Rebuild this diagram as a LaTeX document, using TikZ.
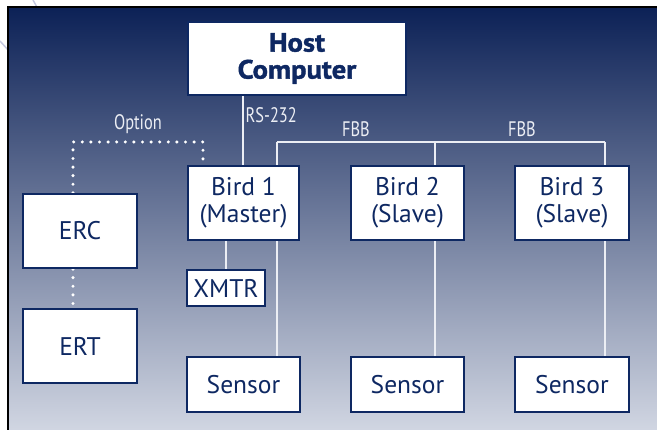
\documentclass[tikz,border=0pt]{standalone}
\usepackage{fontspec}
\setmainfont{PT Sans}
\newfontfamily\condfont[FakeStretch=0.78]{PT Sans}
\newfontfamily\hostfont[FakeBold=1.4, FakeStretch=1.08]{PT Sans Bold}
\pgfdeclarelayer{panel}
\pgfdeclarelayer{background}
\pgfsetlayers{panel,background,main}
\definecolor{navy}{RGB}{14,40,98}
\definecolor{topbg}{RGB}{12,33,86}
\definecolor{botbg}{RGB}{210,215,227}
\definecolor{wire}{RGB}{236,238,244}
\definecolor{arcc}{RGB}{196,200,224}
\tikzset{
  box/.style={draw=navy, fill=white, line width=2.2pt, text=navy, align=center,
    inner sep=0pt, font=\fontsize{25.5}{27}\selectfont},
  wireline/.style={draw=wire, line width=2pt},
  dotline/.style={draw=white, line width=3.4pt, line cap=round, dash pattern=on 0pt off 8.6pt},
  lbl/.style={text=wire, font=\condfont\fontsize{21}{24}\selectfont, inner sep=0pt}
}
\begin{document}
\begin{tikzpicture}[x=1pt,y=-1pt]
\useasboundingbox (0,0) rectangle (657,430);
\begin{pgfonlayer}{panel}
  \draw[arcc, line width=1.5pt] (33,0) -- (38,9);
  \draw[arcc, line width=1.5pt] (0,41) -- (9,51);
  \shade[top color=topbg, bottom color=botbg] (8,7) rectangle (660,433);
  \draw[black, line width=1.6pt] (8,433) -- (8,7) -- (660,7);
\end{pgfonlayer}

\node[box, minimum width=218pt, minimum height=73pt, font=\hostfont\fontsize{26.5}{27}\selectfont] (host) at (297,58.5) {Host\\Computer};
\node[box, minimum width=111pt, minimum height=74pt] (b1) at (243.5,203) {Bird 1\\(Master)};
\node[box, minimum width=113pt, minimum height=74pt] (b2) at (407.5,203) {Bird 2\\(Slave)};
\node[box, minimum width=114pt, minimum height=74pt] (b3) at (572,203) {Bird 3\\(Slave)};
\node[box, minimum width=114pt, minimum height=74pt] (erc) at (80,231) {ERC};
\node[box, minimum width=114pt, minimum height=74pt] (ert) at (80,346) {ERT};
\node[box, minimum width=78pt, minimum height=36pt] (xmtr) at (226,288) {XMTR};
\node[box, minimum width=113pt, minimum height=55pt] (s1) at (243.5,384.5) {Sensor};
\node[box, minimum width=113pt, minimum height=55pt] (s2) at (407.5,384.5) {Sensor};
\node[box, minimum width=114pt, minimum height=55pt] (s3) at (572,384.5) {Sensor};

\coordinate (fbbA) at (277,142);
\coordinate (fbbB) at (435,142);
\coordinate (fbbC) at (605,142);
\coordinate (optA) at (73,142);
\coordinate (optB) at (203,142);

\begin{pgfonlayer}{background}
  \draw[wireline] (host.south -| 243,0) -- (b1.north -| 243,0);
  \draw[wireline] (fbbA) -- (fbbC);
  \draw[wireline] (fbbA) -- (fbbA |- s1.north);
  \draw[wireline] (fbbB) -- (fbbB |- s2.north);
  \draw[wireline] (fbbC) -- (fbbC |- s3.north);
  \draw[wireline] (xmtr.north) -- (xmtr.north |- b1.south);
  \draw[dotline] (optA |- erc.north) -- (optA) -- (optB) -- (optB |- b1.north);
  \draw[dotline] (optA |- erc.south) -- (optA |- ert.north);
\end{pgfonlayer}

\node[lbl, anchor=west] (rs) at (245.5,115) {RS-232};
\node[lbl] (opt) at (138,124) {Option};
\node[lbl] (f1) at (356,129) {FBB};
\node[lbl] (f2) at (522,129) {FBB};
\end{tikzpicture}
\end{document}
